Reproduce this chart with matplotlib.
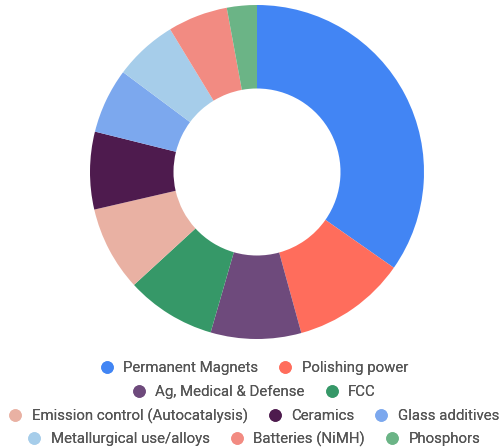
import matplotlib
matplotlib.use("Agg")
import matplotlib.pyplot as plt
from matplotlib.lines import Line2D

plt.rcParams['font.family'] = ['Roboto', 'DejaVu Sans']

categories = [
    "Permanent Magnets", "Polishing power", "Ag, Medical & Defense", "FCC",
    "Emission control (Autocatalysis)", "Ceramics", "Glass additives",
    "Metallurgical use/alloys", "Batteries (NiMH)", "Phosphors",
]
shares = [34.7, 11.0, 8.75, 8.7, 8.2, 7.5, 6.3, 6.1, 5.8, 2.9]
colors = [
    "#4285F4", "#FF6D5C", "#6E4A7C", "#369868", "#E9B1A3",
    "#4E1B4E", "#7CA8EE", "#A6CDEA", "#F28B82", "#6BB486",
]
legend_rows = [2, 2, 3, 3]

W, H = 502, 448
fig = plt.figure(figsize=(W / 100, H / 100), dpi=100)

cx, cy, r = 257, 172, 167
ax = fig.add_axes([(cx - r) / W, (H - cy - r) / H, 2 * r / W, 2 * r / H])
ax.pie(shares, colors=colors, startangle=90, counterclock=False,
       radius=1.0, wedgeprops=dict(width=0.5, linewidth=0))
ax.set_xlim(-1, 1)
ax.set_ylim(-1, 1)
ax.set_aspect('equal')
ax.axis('off')

# Legend: centred rows of round markers
row_y = [368, 392, 416, 439]
idx = 0
for n, y in zip(legend_rows, row_y):
    handles = [Line2D([], [], marker='o', linestyle='none', markersize=8,
                      markerfacecolor=c, markeredgecolor=c)
               for c in colors[idx:idx + n]]
    labels = categories[idx:idx + n]
    leg = fig.legend(handles, labels, loc='center', ncol=n,
                     bbox_to_anchor=(0.505, 1 - y / H), frameon=False,
                     fontsize=10.8, handlelength=1.0, handletextpad=0.6,
                     columnspacing=1.3, borderpad=0, borderaxespad=0,
                     labelcolor='#555555')
    fig.add_artist(leg)
    idx += n

fig.savefig("out.png", dpi=100)
